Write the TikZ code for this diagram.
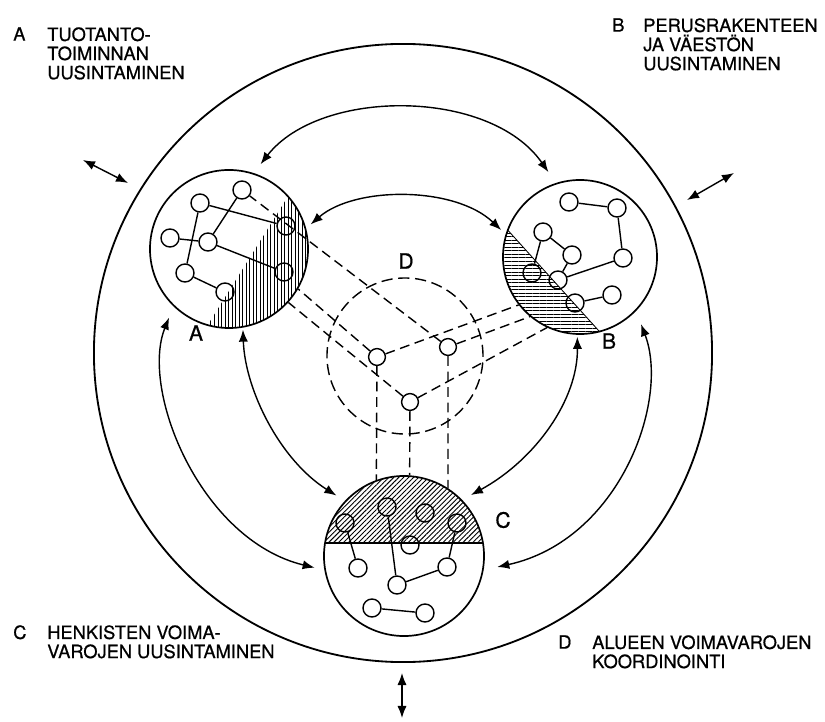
\documentclass[tikz,border=0pt]{standalone}
\usepackage{fontspec}
\setmainfont{TeX Gyre Heros}[FakeBold=0.7]
\usetikzlibrary{arrows.meta,patterns.meta}
\tikzset{
  knot/.style={draw,circle,line width=1pt,minimum size=0.45cm,inner sep=0pt},
  ring/.style={draw,circle,line width=1.2pt,inner sep=0pt},
  link/.style={line width=1pt},
  dlink/.style={line width=1pt,dash pattern=on 7pt off 4pt},
  twoway/.style={line width=1pt,{Latex[length=3mm,width=2.3mm]}-{Latex[length=3mm,width=2.3mm]}},
  hatch/.style={pattern={Lines[angle=#1,distance=2.5pt,line width=0.65pt]}},
  teksti/.style={anchor=north west,inner sep=0pt,align=left,font=\fontsize{13}{13.6}\selectfont},
  kirjain/.style={inner sep=0pt,font=\fontsize{15}{15}\selectfont}
}
\begin{document}
\begin{tikzpicture}[x=0.025cm,y=-0.025cm]
\useasboundingbox (0,0) rectangle (825,722);
%Kehä
	\node[ring,line width=1.3pt,minimum size=15.45cm] (O) at (403,353) {};
%Viivoitus
	\begin{scope}
	  \clip (229,249) circle (79);
	  \fill[hatch=90] (199,339) -- (307,166) -- (330,166) -- (330,339) -- cycle;
	\end{scope}
	\begin{scope}
	  \clip (580,257) circle (77);
	  \fill[hatch=0] (495,216) -- (608,341) -- (495,341) -- cycle;
	  \draw[line width=0.6pt] (495,216) -- (608,341);
	\end{scope}
	\begin{scope}
	  \clip (404,556) circle (80);
	  \fill[hatch=45] (320,470) rectangle (490,543);
	  \draw[line width=0.9pt] (320,543) -- (490,543);
	\end{scope}
%Piirit
	\node[ring,minimum size=3.95cm] (A) at (229,249) {};
	\node[ring,minimum size=3.85cm] (B) at (580,257) {};
	\node[ring,minimum size=4cm] (C) at (404,556) {};
	\node[circle,draw,line width=1pt,dash pattern=on 8pt off 4pt,minimum size=3.9cm,inner sep=0pt] (D) at (405,356) {};
	\node[kirjain] (kA) at (196,333) {A};
	\node[kirjain] (kB) at (609,341) {B};
	\node[kirjain] (kC) at (503,520) {C};
	\node[kirjain] (kD) at (406,261) {D};
%Solmut A
	\node[knot] (a1) at (242,190) {};
	\node[knot] (a2) at (200,203) {};
	\node[knot] (a3) at (170,238) {};
	\node[knot] (a4) at (208,242) {};
	\node[knot] (a5) at (185,273) {};
	\node[knot] (a6) at (225,292) {};
	\node[knot] (a7) at (286,226) {};
	\node[knot] (a8) at (284,272) {};
	\draw[link] (a1) -- (a4);
	\draw[link] (a2) -- (a5);
	\draw[link] (a3) -- (a4);
	\draw[link] (a2) -- (a7);
	\draw[link] (a4) -- (a8);
	\draw[link] (a5) -- (a6);
%Solmut B
	\node[knot] (b1) at (569,202) {};
	\node[knot] (b2) at (617,208) {};
	\node[knot] (b3) at (623,258) {};
	\node[knot] (b4) at (543,232) {};
	\node[knot] (b5) at (572,255) {};
	\node[knot] (b6) at (532,273) {};
	\node[knot] (b7) at (558,280) {};
	\node[knot] (b8) at (575,303) {};
	\node[knot] (b9) at (612,295) {};
	\draw[link] (b1) -- (b2);
	\draw[link] (b2) -- (b3);
	\draw[link] (b3) -- (b7);
	\draw[link] (b4) -- (b5);
	\draw[link] (b4) -- (b6);
	\draw[link] (b5) -- (b7);
	\draw[link] (b8) -- (b9);
%Solmut C
	\node[knot] (c1) at (345,523) {};
	\node[knot] (c2) at (387,507) {};
	\node[knot] (c3) at (425,513) {};
	\node[knot] (c4) at (457,523) {};
	\node[knot] (c5) at (410,545) {};
	\node[knot] (c6) at (358,568) {};
	\node[knot] (c7) at (397,585) {};
	\node[knot] (c8) at (447,567) {};
	\node[knot] (c9) at (372,608) {};
	\node[knot] (c10) at (425,613) {};
	\draw[link] (c6) -- (c1);
	\draw[link] (c7) -- (c2);
	\draw[link] (c7) -- (c8);
	\draw[link] (c8) -- (c4);
	\draw[link] (c9) -- (c10);
%Solmut D
	\node[knot,minimum size=0.42cm] (N1) at (377,357) {};
	\node[knot,minimum size=0.42cm] (N2) at (448,347) {};
	\node[knot,minimum size=0.42cm] (N3) at (410,402) {};
	\draw[dlink] (N2) -- (a1);
	\draw[dlink] (N1) -- (A.-30);
	\draw[dlink] (N3) -- (A.-42);
	\draw[dlink] (N1) -- (B.-142);
	\draw[dlink] (N2) -- (B.-130);
	\draw[dlink] (N3) -- (B.-115);
	\draw[dlink] (N1) -- (C.110);
	\draw[dlink] (N3) -- (C.86);
	\draw[dlink] (N2) -- (C.57);
%Nuolet
	\draw[twoway,shorten <=0.28cm,shorten >=0.33cm] (A.72) .. controls (320,88) and (490,88) .. (B.108);
	\draw[twoway,shorten <=0.15cm,shorten >=0.15cm] (A.15) .. controls (355,186) and (455,186) .. (B.163);
	\draw[twoway,shorten <=0.3cm,shorten >=0.25cm] (A.-134) .. controls (140,390) and (200,540) .. (C.-170);
	\draw[twoway,shorten <=0.05cm,shorten >=0.25cm] (A.-80) .. controls (245,390) and (280,460) .. (C.137);
	\draw[twoway,shorten <=0.35cm,shorten >=0.35cm] (B.-44) .. controls (670,400) and (620,540) .. (C.-10);
	\draw[twoway,shorten <=0.05cm,shorten >=0.25cm] (B.-92) .. controls (578,400) and (535,460) .. (C.44);
	\coordinate (pA1) at (83,160);
	\coordinate (pA2) at (128,183);
	\coordinate (pB1) at (734,173);
	\coordinate (pB2) at (687,200);
	\coordinate (pC1) at (402,673);
	\coordinate (pC2) at (402,718);
	\draw[twoway] (pA1) -- (pA2);
	\draw[twoway] (pB1) -- (pB2);
	\draw[twoway] (pC1) -- (pC2);
%Selitteet
	\node[teksti] (lA) at (13,27) {A};
	\node[teksti] (tA) at (47,27) {TUOTANTO-\\TOIMINNAN\\UUSINTAMINEN};
	\node[teksti] (lB) at (612,18) {B};
	\node[teksti] (tB) at (643,18) {PERUSRAKENTEEN\\JA VÄESTÖN\\UUSINTAMINEN};
	\node[teksti] (lC) at (13,625) {C};
	\node[teksti] (tC) at (47,625) {HENKISTEN VOIMA-\\VAROJEN UUSINTAMINEN};
	\node[teksti] (lD) at (558,635) {D};
	\node[teksti] (tD) at (592,635) {ALUEEN VOIMAVAROJEN\\KOORDINOINTI};
\end{tikzpicture}
\end{document}
